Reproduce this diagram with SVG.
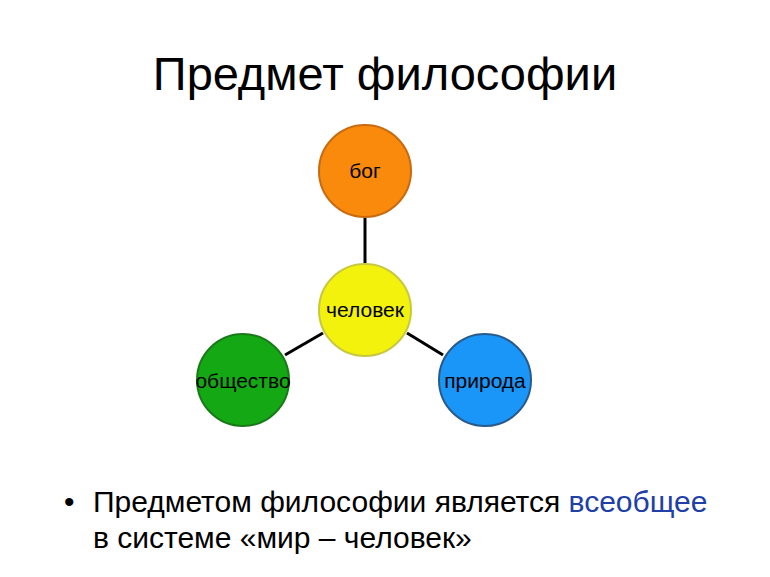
<svg xmlns="http://www.w3.org/2000/svg" width="770" height="577" viewBox="0 0 770 577">
<style>
text{font-family:"Liberation Sans",Arial,sans-serif}
.n{stroke-width:2}
.l{font-size:21px;text-anchor:middle}
.c{stroke:#000;stroke-width:3}
</style>
<rect width="770" height="577" fill="#fff"/>
<text x="385" y="90" font-size="47" text-anchor="middle">Предмет философии</text>
<g id="connectors">
<line class="c" x1="365" y1="218" x2="365" y2="263"/>
<line class="c" x1="323" y1="333" x2="285" y2="355"/>
<line class="c" x1="407" y1="333" x2="443" y2="355"/>
</g>
<g id="bog"><circle class="n" cx="365" cy="171" r="46" fill="#F98A0C" stroke="#C86A10"/><text class="l" x="365" y="178">бог</text></g>
<g id="chelovek"><circle class="n" cx="365" cy="310" r="46" fill="#F2F20C" stroke="#C8C840"/><text class="l" x="365" y="317">человек</text></g>
<g id="obshchestvo"><circle class="n" cx="243" cy="380" r="46" fill="#14A814" stroke="#1A7A1A"/><text class="l" x="243" y="388">общество</text></g>
<g id="priroda"><circle class="n" cx="485" cy="380" r="46" fill="#1A96F8" stroke="#2A5A8A"/><text class="l" x="485" y="388">природа</text></g>
<text x="64" y="512" font-size="30">•</text>
<text x="93" y="512" font-size="30">Предметом философии является <tspan fill="#2040A8">всеобщее</tspan></text>
<text x="93" y="548" font-size="30">в системе «мир – человек»</text>
</svg>
